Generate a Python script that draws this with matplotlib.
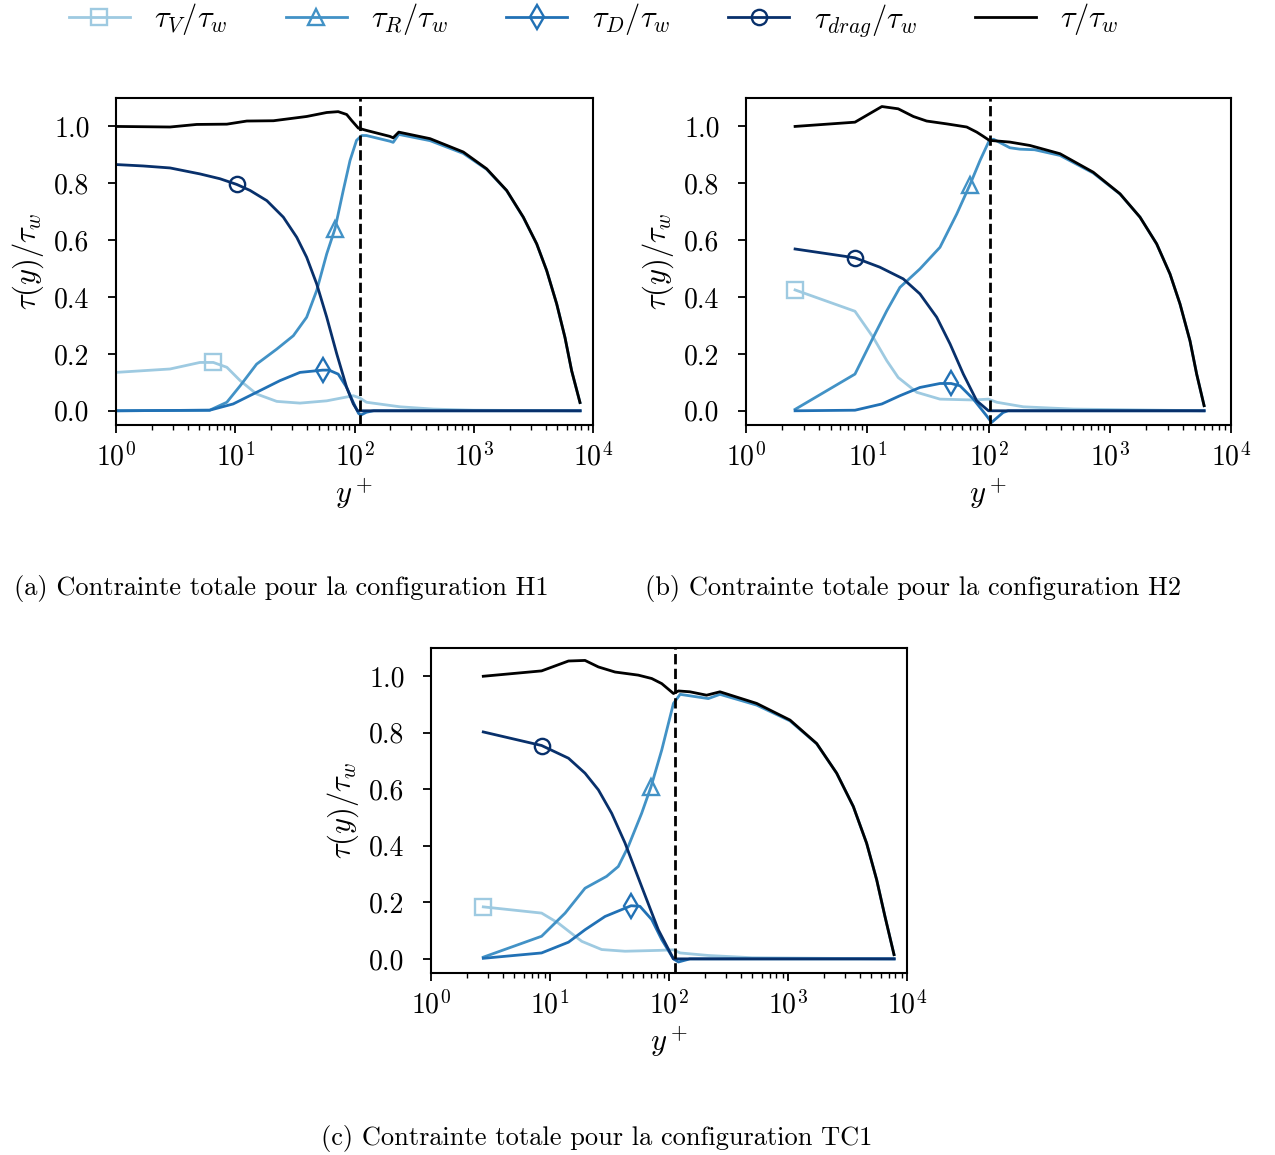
import numpy as np
import matplotlib
matplotlib.use("Agg")
import matplotlib.pyplot as plt

plt.rcParams['font.family'] = 'cmr10'
plt.rcParams['mathtext.fontset'] = 'cm'
plt.rcParams['axes.formatter.use_mathtext'] = True
plt.rcParams['axes.unicode_minus'] = False

# ---------------- data: H1 ----------------
H1_x_V = [1, 2.84, 5.06, 6.55, 8.5, 11, 15.1, 22.3, 34.9, 58.5, 97.7, 111, 126, 241, 458, 1000, 7800]
H1_V = [0.135, 0.147, 0.170, 0.170, 0.153, 0.106, 0.059, 0.033, 0.027, 0.035, 0.053, 0.045, 0.03, 0.014, 0.006, 0.002, 0.0]
H1_x_R = [1, 6.1, 8.5, 11, 15.1, 22.3, 30.7, 39.7, 48.2, 58.5, 68.6, 80.5, 91.7, 104, 115, 126, 198, 211, 235,
          430, 818, 1283, 1888, 2604, 3372, 4090, 4960, 5820, 6620, 7780]
H1_R = [0.0, 0.002, 0.03, 0.088, 0.164, 0.217, 0.264, 0.329, 0.423, 0.552, 0.64, 0.775, 0.880, 0.951, 0.968, 0.968,
        0.948, 0.944, 0.972, 0.950, 0.905, 0.849, 0.774, 0.680, 0.587, 0.493, 0.376, 0.258, 0.141, 0.029]
H1_x_D = [1, 6.1, 9.6, 15.1, 23.7, 34.9, 54.1, 61, 73, 86, 97.8, 108, 113, 126, 145, 7800]
H1_D = [0.0, 0.002, 0.024, 0.065, 0.106, 0.135, 0.143, 0.143, 0.129, 0.082, 0.029, -0.009, -0.015, -0.005, 0.0, 0.0]
H1_x_drag = [1, 1.69, 2.84, 5.06, 7.45, 10.3, 13.3, 18.4, 25.3, 32.8, 39.7, 48.2, 58.5, 71, 86, 97.8, 106, 7800]
H1_drag = [0.866, 0.861, 0.854, 0.833, 0.816, 0.796, 0.775, 0.739, 0.681, 0.610, 0.540, 0.446, 0.329, 0.200,
           0.082, 0.024, 0.0, 0.0]
H1_x_tot = [1, 2.84, 4.75, 8.5, 12.5, 20.9, 39.7, 58.5, 73, 86, 95, 107.7, 126, 198, 211, 235, 430, 818, 1283,
            1888, 2604, 3372, 4090, 4960, 5820, 6620, 7780]
H1_tot = [1.0, 0.998, 1.007, 1.008, 1.019, 1.02, 1.035, 1.049, 1.052, 1.042, 1.02, 0.994, 0.986, 0.965, 0.960,
          0.980, 0.957, 0.910, 0.851, 0.775, 0.681, 0.587, 0.493, 0.376, 0.258, 0.141, 0.029]

# ---------------- data: H2 ----------------
H2_x_V = [2.54, 7.92, 11.2, 14.5, 18.0, 25.6, 39.8, 75, 100, 117, 194, 500, 6000]
H2_V = [0.425, 0.35, 0.258, 0.176, 0.117, 0.065, 0.041, 0.038, 0.041, 0.03, 0.014, 0.006, 0.0]
H2_x_R = [2.54, 7.92, 11.2, 14.5, 18.6, 27.2, 39.8, 54.7, 70.3, 85.1, 101.6, 110, 150, 182, 240, 389, 731, 1216,
          1776, 2437, 3140, 3795, 4590, 5210, 6000]
H2_R = [0.005, 0.129, 0.258, 0.352, 0.434, 0.499, 0.575, 0.692, 0.795, 0.88, 0.951, 0.955, 0.925, 0.920, 0.918,
        0.898, 0.836, 0.762, 0.681, 0.587, 0.481, 0.376, 0.246, 0.129, 0.018]
H2_x_D = [2.54, 7.92, 13.2, 18.6, 27.2, 39.8, 49.1, 58.2, 75, 96.6, 106, 132, 145, 6000]
H2_D = [0.0, 0.002, 0.024, 0.053, 0.082, 0.096, 0.096, 0.088, 0.041, -0.018, -0.041, -0.006, 0.0, 0.0]
H2_x_drag = [2.54, 7.92, 12.7, 19.8, 27.2, 37.4, 48.2, 62, 80, 100, 6000]
H2_drag = [0.569, 0.538, 0.505, 0.464, 0.411, 0.329, 0.235, 0.129, 0.035, 0.0, 0.0]
H2_x_tot = [2.54, 7.92, 13.2, 18.0, 24, 30.9, 45.2, 66.1, 80, 90, 101.6, 124, 150, 220, 389, 731, 1216, 1776,
            2437, 3140, 3795, 4590, 5210, 6000]
H2_tot = [1.0, 1.015, 1.070, 1.062, 1.035, 1.019, 1.009, 0.998, 0.98, 0.966, 0.951, 0.948, 0.945, 0.933, 0.904,
          0.839, 0.763, 0.681, 0.587, 0.481, 0.376, 0.246, 0.129, 0.018]

# ---------------- data: TC1 ----------------
TC1_x_V = [2.75, 8.5, 11.7, 18.5, 27.2, 42.7, 81.3, 109, 124, 214, 500, 7800]
TC1_V = [0.184, 0.162, 0.127, 0.062, 0.033, 0.027, 0.030, 0.032, 0.021, 0.012, 0.004, 0.0]
TC1_x_R = [2.75, 8.5, 13.4, 19.7, 29.9, 37.5, 45.5, 58.9, 70.6, 86.9, 109, 124, 214, 268, 545, 1040, 1742, 2565,
           3540, 4580, 5560, 6530, 7780]
TC1_R = [0.006, 0.08, 0.162, 0.25, 0.292, 0.327, 0.398, 0.515, 0.609, 0.739, 0.904, 0.936, 0.921, 0.936, 0.898,
         0.842, 0.761, 0.657, 0.539, 0.409, 0.280, 0.150, 0.015]
TC1_x_D = [2.75, 8.5, 14.3, 19.7, 29, 48, 57, 71.6, 86.9, 109, 120, 150, 7800]
TC1_D = [0.002, 0.021, 0.059, 0.103, 0.150, 0.188, 0.186, 0.139, 0.068, 0.0, -0.011, 0.0, 0.0]
TC1_x_drag = [2.75, 8.5, 14.3, 19.7, 25.5, 33, 42.7, 58.9, 81.3, 109, 7800]
TC1_drag = [0.803, 0.755, 0.71, 0.657, 0.598, 0.515, 0.41, 0.256, 0.103, 0.0, 0.0]
TC1_x_tot = [2.75, 8.5, 14.3, 19.7, 25.5, 35.2, 55.2, 71.6, 86.9, 109, 120, 150, 207, 268, 545, 1040, 1742, 2565,
             3540, 4580, 5560, 6530, 7780]
TC1_tot = [1.0, 1.019, 1.054, 1.056, 1.033, 1.015, 1.004, 0.992, 0.974, 0.939, 0.948, 0.945, 0.933, 0.945, 0.904,
           0.845, 0.762, 0.657, 0.539, 0.409, 0.280, 0.150, 0.015]

# marker positions (y+) for each series, per panel: V, R, D, drag
H1_marker_x = [6.55, 68.6, 54.1, 10.3]
H2_marker_x = [2.54, 70.3, 49.1, 7.92]
TC1_marker_x = [2.75, 70.6, 48, 8.5]

interface_yplus = [111, 103, 112]

captions = ["(a) Contrainte totale pour la configuration H1",
            "(b) Contrainte totale pour la configuration H2",
            "(c) Contrainte totale pour la configuration TC1"]

labels = [r'$\tau_V/\tau_w$', r'$\tau_R/\tau_w$', r'$\tau_D/\tau_w$', r'$\tau_{drag}/\tau_w$', r'$\tau/\tau_w$']
colors = ['#9ecae1', '#4292c6', '#2171b5', '#08306b', 'black']
markers = ['s', '^', 'd', 'o', None]
msizes = [12, 12, 12.5, 11, 0]

panels = [
    dict(series=[(H1_x_V, H1_V), (H1_x_R, H1_R), (H1_x_D, H1_D), (H1_x_drag, H1_drag), (H1_x_tot, H1_tot)],
         mx=H1_marker_x, iface=interface_yplus[0], cap=captions[0]),
    dict(series=[(H2_x_V, H2_V), (H2_x_R, H2_R), (H2_x_D, H2_D), (H2_x_drag, H2_drag), (H2_x_tot, H2_tot)],
         mx=H2_marker_x, iface=interface_yplus[1], cap=captions[1]),
    dict(series=[(TC1_x_V, TC1_V), (TC1_x_R, TC1_R), (TC1_x_D, TC1_D), (TC1_x_drag, TC1_drag),
                 (TC1_x_tot, TC1_tot)],
         mx=TC1_marker_x, iface=interface_yplus[2], cap=captions[2]),
]

W, H = 1275, 1155
fig = plt.figure(figsize=(W / 100, H / 100), dpi=100)

# axes boxes in pixels: left, right, top, bottom
boxes = [(116, 593, 98, 425), (746, 1231, 98, 425), (431, 907, 648, 973)]
cap_pos = [(281, 589), (913, 589), (597, 1139)]

FS_TICK = 20
FS_LAB = 22
FS_CAP = 19
FS_LEG = 22
LW = 2.0

handles = []
for i, (p, (l, r, t, b)) in enumerate(zip(panels, boxes)):
    ax = fig.add_axes([l / W, 1 - b / H, (r - l) / W, (b - t) / H])
    for j, (xs, ys) in enumerate(p['series']):
        kw = {}
        if markers[j] is not None:
            idx = int(np.argmin(np.abs(np.log10(np.array(xs)) - np.log10(p['mx'][j]))))
            kw = dict(marker=markers[j], markevery=[idx], markersize=msizes[j],
                      markerfacecolor='none', markeredgewidth=1.7, markeredgecolor=colors[j])
        ln, = ax.plot(xs, ys, color=colors[j], lw=LW, label=labels[j], zorder=2 + j * 0.1, **kw)
        if i == 0:
            handles.append(ln)
    ax.axvline(p['iface'], color='black', ls='--', lw=LW, zorder=3)
    ax.set_xscale('log')
    ax.set_xlim(1, 1e4)
    ax.set_ylim(-0.05, 1.1)
    ax.set_yticks([0.0, 0.2, 0.4, 0.6, 0.8, 1.0])
    ax.set_yticklabels(['0.0', '0.2', '0.4', '0.6', '0.8', '1.0'])
    ax.tick_params(axis='both', which='major', labelsize=FS_TICK, length=6, width=1.3, direction='out')
    ax.tick_params(axis='x', which='major', pad=7)
    ax.tick_params(axis='y', which='major', pad=13)
    ax.tick_params(axis='x', which='minor', length=3.5, width=1.0)
    for s in ax.spines.values():
        s.set_linewidth(1.5)
    ax.set_ylabel(r'$\tau(y)/\tau_w$', fontsize=FS_LAB, labelpad=6)
    ax.set_xlabel(r'$y^+$', fontsize=FS_LAB, labelpad=3)
    cx, cy = cap_pos[i]
    fig.text(cx / W, 1 - cy / H, p['cap'], fontsize=FS_CAP, ha='center', va='center')

fig.legend(handles=handles, loc='center', bbox_to_anchor=(594 / W, 1 - 20 / H), ncol=5, frameon=False,
           fontsize=FS_LEG, handlelength=2.0, columnspacing=1.9, handletextpad=0.8)

fig.savefig('out.png', dpi=100)
